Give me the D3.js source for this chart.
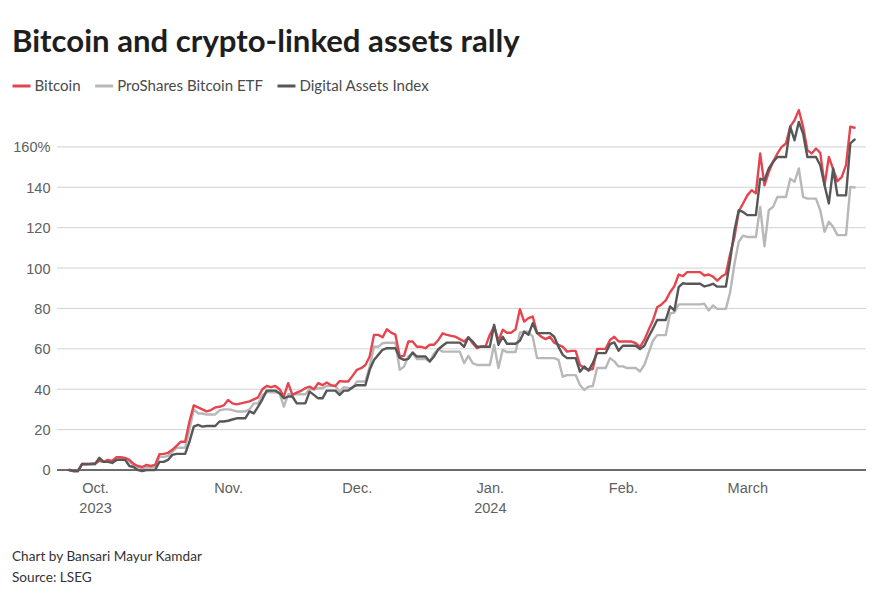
<!DOCTYPE html>
<html><head><meta charset="utf-8">
<script src="https://cdn.jsdelivr.net/npm/d3@7"></script>
<style>
body{margin:0;background:#fff;}
svg{display:block;font-family:"Source Sans Pro","Lato","Open Sans",sans-serif;}
</style></head><body>
<svg id="chart" width="881" height="600"></svg>
<script>
// ---- data (daily, % change since Sep 25, 2023) ----
const startDate = "2023-09-25";
const endDate = "2024-03-26";

const bitcoin = [
  0, -0.5, -0.5, 3, 2.8, 3, 3.2,
  4.5, 4, 5, 4.5, 6.3, 6.3, 6,
  5, 3, 2, 1.5, 2.5, 2, 2.5,
  7.8, 8, 8.5, 10, 12, 14, 14,
  24, 32, 31, 30, 29, 29.7, 31,
  31.3, 32, 34.7, 33, 32.5, 33, 33.5,
  34, 35, 36, 40, 41.6, 41, 41.6,
  40, 36.4, 43, 37.2, 38.3, 39.2, 40.5,
  41.3, 40, 43, 42, 43.3, 42, 41.6,
  44, 43.8, 43.8, 46.6, 49.6, 50.4, 52,
  56.2, 66.9, 66.9, 65.7, 69.7, 68, 67,
  56.2, 56.5, 63.6, 63.6, 61, 61, 60.3,
  62, 62, 64.4, 67.7, 66.9, 66.4, 66,
  64.8, 63.6, 65.7, 62.8, 60.3, 61.2, 61.2,
  67, 71, 64, 69.4, 68, 68, 69.7,
  79.6, 73.5, 75.2, 76, 67.8, 66, 64.8,
  66, 63, 62, 61, 58.6, 59, 59,
  52, 50.5, 49.6, 50, 59.9, 60, 60,
  64.4, 66, 63.6, 63.6, 63.6, 63.6, 62.8,
  61, 64.4, 69.4, 74, 80.6, 82, 84,
  88, 91, 96.8, 96, 98, 98, 98,
  98, 96.3, 96.8, 95.8, 93.8, 95.8, 97.1,
  107, 115.3, 128, 132, 136, 138.5, 137,
  156.7, 141, 147.6, 152.6, 156.7, 160, 161.7,
  170, 173.2, 178.2, 170, 158.4, 156.7, 159.2,
  157, 141, 155, 149, 143, 145, 151,
  170, 169.5
];

const proSharesETF = [
  0, -0.5, -0.5, 3, 3, 3, 3,
  5, 4, 4, 4.5, 5.5, 5.5, 5.5,
  4, 2.5, 1.5, 1, 1.5, 1.5, 1.5,
  6.5, 6.5, 7, 9, 11, 11, 11,
  20, 30, 28, 28, 27.5, 27.5, 27.5,
  29.5, 30, 30, 29.7, 29, 29, 29,
  30, 33, 33, 37, 38.5, 38.5, 38.5,
  38, 31.4, 37.5, 37.5, 37.5, 37.5, 37.5,
  40, 40, 40.5, 40.5, 41.6, 41.6, 41.6,
  38.8, 41, 40.5, 40.5, 43.8, 43.8, 43.8,
  51.2, 61, 61, 62.8, 63, 63, 63,
  49.6, 51.2, 56.2, 57.8, 55, 55, 55,
  53.7, 57.8, 59.8, 58.6, 58.6, 58.6, 58.6,
  58.6, 52.9, 56.5, 52.9, 52, 52, 52,
  52, 62, 50.5, 59.5, 58.4, 58.4, 58.4,
  68, 68.5, 68.5, 66, 55.4, 55.4, 55.4,
  55.4, 55.4, 54.5, 46.2, 47, 47, 47,
  42.1, 39.6, 41.3, 41.6, 50.5, 50.5, 50.5,
  55.4, 53.8, 51.3, 51.3, 50.5, 50.5, 50.5,
  48.8, 52, 58, 64, 66.8, 66.8, 66.8,
  77.5, 78, 82, 82, 82, 82, 82,
  82, 82.3, 79, 81.5, 79.8, 79.8, 79.8,
  88, 102, 113, 116, 115.4, 115.4, 115.4,
  130.3, 110.8, 128.6, 130.3, 135.2, 135.2, 135.2,
  144.3, 142.7, 149.3, 135.2, 134.4, 134.4, 134.4,
  128.6, 118, 122.9, 120.4, 116.3, 116.3, 116.3,
  140.2, 139.9
];

const digitalAssetsIndex = [
  0, -0.5, -0.5, 3, 3, 3, 3,
  6, 4, 4, 3.5, 5, 5, 5,
  2, 1.5, 0, -0.5, 0, 0, 0,
  4, 4, 5, 7.5, 8, 8, 8,
  14, 21.5, 22.3, 21.5, 21.8, 21.8, 21.8,
  24, 24, 24.4, 25, 25.6, 25.6, 25.6,
  29, 28, 31.4, 35, 39.3, 39.3, 39.3,
  38, 35.5, 36.4, 36.4, 33, 33, 33,
  38.8, 37.2, 35.5, 35.5, 39.3, 39.3, 39.3,
  37.2, 39.3, 39.3, 41, 42, 42, 42,
  49.6, 54.5, 57, 59.5, 60.3, 60.3, 60.3,
  55.5, 54.5, 55, 58.2, 56.2, 56.2, 56.2,
  53.7, 56.2, 59.8, 61.5, 63.1, 63.1, 63.1,
  63.1, 61, 65.7, 63.6, 61, 61, 61,
  61, 71.9, 62, 66, 62.5, 62.5, 62.5,
  64, 68.5, 67, 72.7, 67.8, 67.8, 67.8,
  67.8, 66, 61, 57, 55.4, 55.4, 55.4,
  48.7, 51.3, 49.2, 53, 57.9, 57.9, 57.9,
  62.3, 63.2, 59.1, 61.5, 61.5, 61.5, 61.5,
  59.9, 61.5, 66, 70, 74.3, 74.3, 74.3,
  81, 79, 90.5, 92.5, 92.2, 92.2, 92.2,
  92.2, 90.9, 91.4, 92.2, 90.8, 90.8, 90.8,
  104, 118.7, 128.6, 127.8, 126.2, 126.2, 126.2,
  144.3, 143.5, 149.3, 152.6, 155, 155, 155,
  170, 163.3, 172.4, 166.6, 155, 155, 155,
  150.9, 141, 132, 149.3, 136, 136, 136,
  161.7, 163.6
];

const seriesNames = ["Bitcoin", "ProShares Bitcoin ETF", "Digital Assets Index"];
const yTicks = [0, 20, 40, 60, 80, 100, 120, 140, 160];
const monthTicks = ["2023-10-01", "2023-11-01", "2023-12-01", "2024-01-01", "2024-02-01", "2024-03-01"];
const monthLabels = ["Oct.", "Nov.", "Dec.", "Jan.", "Feb.", "March"];
const yearLabels = ["2023", "", "", "2024", "", ""];
const titleText = "Bitcoin and crypto-linked assets rally";
const footerLines = ["Chart by Bansari Mayur Kamdar", "Source: LSEG"];

// ---- styling ----
const colors = {"Bitcoin": "#e5454f", "ProShares Bitcoin ETF": "#b8b8b8", "Digital Assets Index": "#575757"};
const drawOrder = ["ProShares Bitcoin ETF", "Bitcoin", "Digital Assets Index"];

const svg = d3.select("#chart");
const parse = d3.utcParse("%Y-%m-%d");
const dates = d3.utcDay.range(parse(startDate), d3.utcDay.offset(parse(endDate), 1));
const valuesByName = {
  "Bitcoin": bitcoin,
  "ProShares Bitcoin ETF": proSharesETF,
  "Digital Assets Index": digitalAssetsIndex
};

const x = d3.scaleUtc().domain([parse(startDate), parse(endDate)]).range([69.3, 854.6]);
const y = d3.scaleLinear().domain([0, 160]).range([470, 146.9]);

function fit(sel, target) {
  const base = 20;
  sel.style("font-size", base + "px");
  const w = sel.node().getComputedTextLength();
  sel.style("font-size", (base * target / w) + "px");
}

// title
const title = svg.append("text").attr("x", 12).attr("y", 52)
  .attr("fill", "#1e1e1e").attr("font-weight", 700).text(titleText);
fit(title, 508);

// legend
const legend = svg.append("g");
const tmpL = svg.append("text").text(seriesNames[1]);
fit(tmpL, 146);
const legendSize = tmpL.style("font-size");
tmpL.remove();
let lx = 12.5;
seriesNames.forEach((name, i) => {
  const g = legend.append("g");
  g.append("line").attr("x1", lx).attr("x2", lx + 18).attr("y1", 86).attr("y2", 86)
    .attr("stroke", colors[name]).attr("stroke-width", 3);
  const t = g.append("text").attr("x", lx + 22).attr("y", 91).attr("fill", "#4a4a4a")
    .style("font-size", legendSize).text(name);
  lx = lx + 22 + t.node().getComputedTextLength() + 14.5;
});

// grid + y labels
const grid = svg.append("g");
yTicks.forEach(v => {
  if (v !== 0) {
    grid.append("line").attr("x1", 57).attr("x2", 866).attr("y1", y(v)).attr("y2", y(v))
      .attr("stroke", "#d2d2d2").attr("stroke-width", 1);
  }
});
const tmpY = svg.append("text").text("160%"); fit(tmpY, 37); const ySize = tmpY.style("font-size"); tmpY.remove();
const yAxis = d3.axisLeft(y).tickValues(yTicks).tickSize(0).tickPadding(0)
  .tickFormat(v => v === 160 ? v + "%" : v);
const yg = svg.append("g").attr("transform", "translate(50.5,0)").call(yAxis);
yg.select(".domain").remove();
yg.selectAll("text").attr("fill", "#606060").attr("dy", "0.34em")
  .style("font-family", "inherit").style("font-size", ySize);

// x labels
const xAxis = d3.axisBottom(x).tickValues(monthTicks.map(parse)).tickSize(0).tickPadding(0)
  .tickFormat((d, i) => monthLabels[i]);
const xg = svg.append("g").attr("transform", "translate(0,482)").call(xAxis);
xg.select(".domain").remove();
xg.selectAll("text").attr("fill", "#606060").attr("dy", "0.75em").style("font-family", "inherit").style("font-size", ySize);
xg.selectAll(".tick").append("text").attr("fill", "#606060").attr("y", 20).attr("dy", "0.75em")
  .attr("text-anchor", "middle").style("font-size", ySize)
  .text((d, i) => yearLabels[i]);

// zero line
svg.append("line").attr("x1", 57).attr("x2", 866).attr("y1", y(0)).attr("y2", y(0))
  .attr("stroke", "#3a3a3a").attr("stroke-width", 1.6);

// lines
const line = d3.line().x((d, i) => x(dates[i])).y(d => y(d)).curve(d3.curveLinear);
drawOrder.forEach(name => {
  svg.append("path").datum(valuesByName[name]).attr("d", line)
    .attr("fill", "none").attr("stroke", colors[name]).attr("stroke-width", 2.4)
    .attr("stroke-linejoin", "round").attr("stroke-linecap", "round");
});

// footer
const f1 = svg.append("text").attr("x", 12).attr("y", 561).attr("fill", "#333").text(footerLines[0]);
fit(f1, 190);
const fSize = f1.style("font-size");
svg.append("text").attr("x", 12).attr("y", 582).attr("fill", "#333").style("font-size", fSize).text(footerLines[1]);
</script>
</body></html>
